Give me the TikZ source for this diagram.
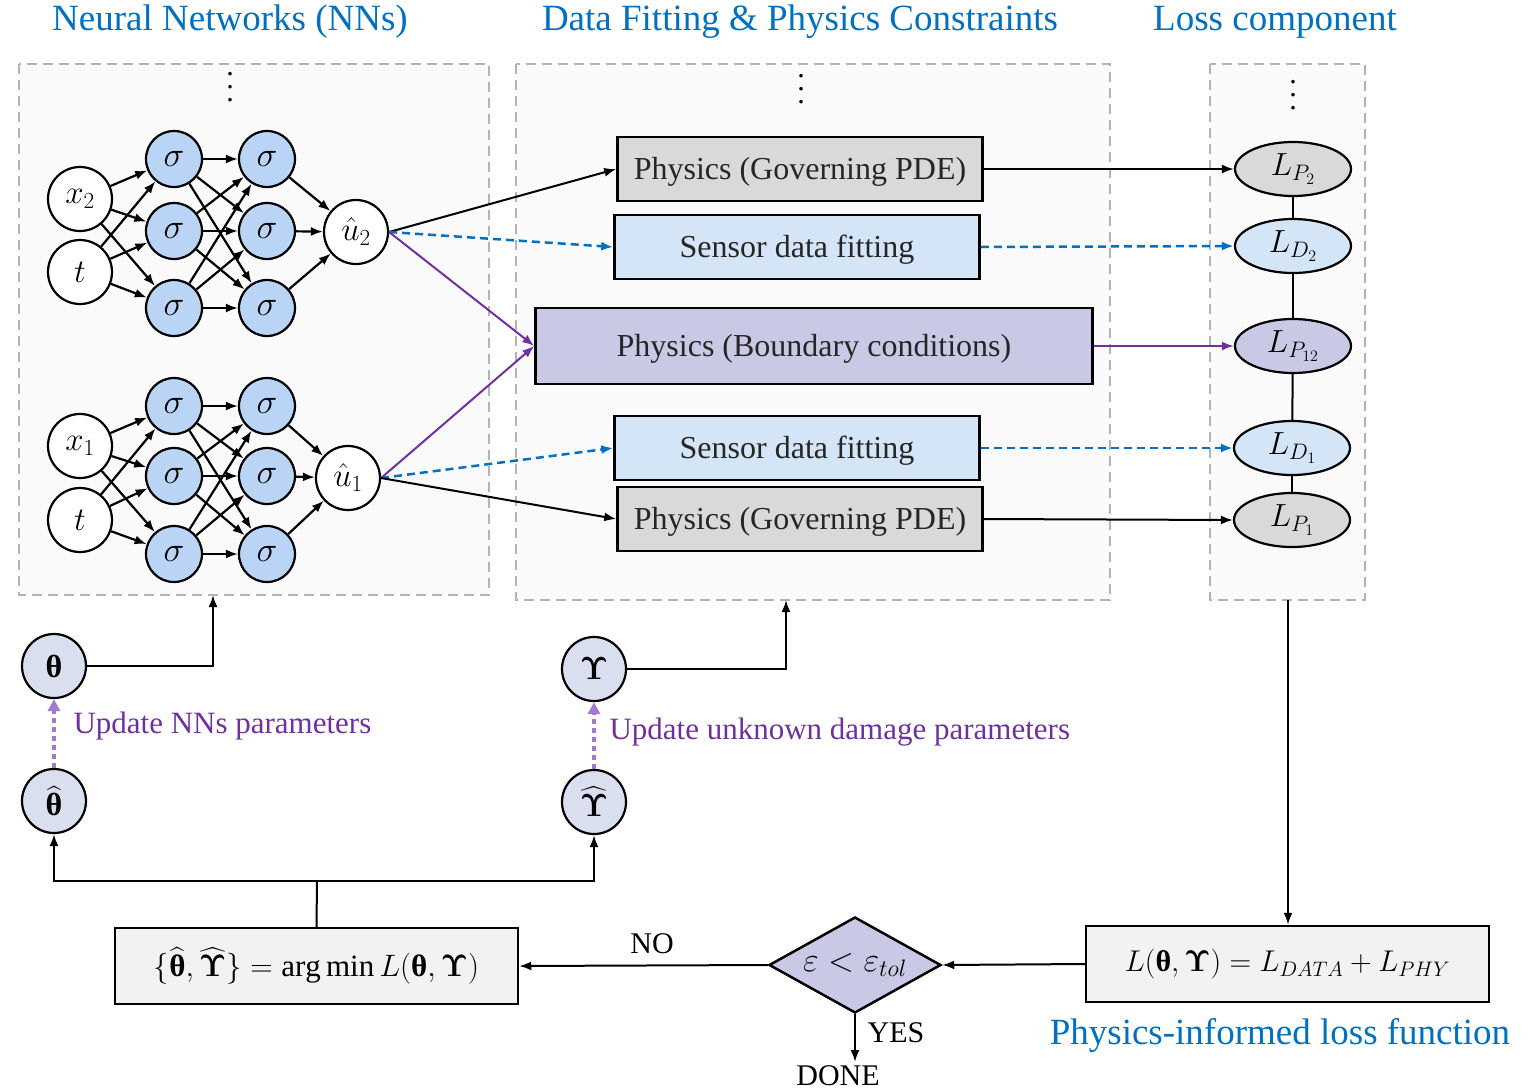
\RequirePackage{fix-cm}
\documentclass[tikz,border=0pt]{standalone}
\usepackage{amsmath}
\usepackage{fontspec}
\setmainfont{Liberation Serif}
\usetikzlibrary{arrows.meta,shapes.geometric,calc}
\definecolor{ttlblue}{HTML}{0070C0}
\definecolor{ppl}{HTML}{7030A0}
\definecolor{lppl}{HTML}{A07ACF}
\definecolor{hidblue}{HTML}{BAD4F6}
\definecolor{pdegray}{HTML}{D9D9D9}
\definecolor{senblue}{HTML}{D3E5F7}
\definecolor{bclav}{HTML}{C9C9E6}
\definecolor{boxgray}{HTML}{F2F2F2}
\definecolor{parfill}{HTML}{DADFF0}
\definecolor{regfill}{HTML}{FAFAFA}
\definecolor{regline}{HTML}{B3B3B3}
\definecolor{txtdark}{HTML}{262626}
\newcommand{\bth}{\text{\normalfont\bfseries θ}}
\newcommand{\bUp}{\boldsymbol{\Upsilon}}
\newcommand{\fs}[1]{\fontsize{#1}{#1}\selectfont}
\newcommand{\vdts}{\vbox{\baselineskip=13pt\hbox{.}\hbox{.}\hbox{.}}}
\begin{document}
\begin{tikzpicture}[x=1pt,y=-1pt,
  region/.style={draw=regline, fill=regfill, line width=2pt, dash pattern=on 10pt off 6pt},
  title/.style={text=ttlblue, font=\fs{37}},
  inp/.style={circle, draw, line width=2.2pt, minimum size=64pt, inner sep=0pt, fill=white, font=\fs{33}},
  hid/.style={circle, draw, line width=2.2pt, minimum size=56pt, inner sep=0pt, fill=hidblue, font=\fs{35}},
  nnarrow/.style={line width=2.2pt, -{Latex[length=12pt,width=9pt]}},
  pbox/.style={draw, line width=2.5pt, minimum width=365pt, minimum height=64pt, text=txtdark, font=\fs{32}, text height=28pt, text depth=7pt},
  lossell/.style={ellipse, draw, line width=2.2pt, minimum width=116pt, minimum height=54pt, inner sep=0pt, font=\fs{32}},
  par/.style={circle, draw, line width=2.2pt, minimum size=64pt, inner sep=0pt, fill=parfill, font=\fs{32}},
  conn/.style={line width=2pt, -{Latex[length=12pt,width=9pt]}},
  bconn/.style={line width=2.5pt, draw=ttlblue, dash pattern=on 8pt off 5pt, -{Latex[length=12pt,width=9pt]}, ttlblue},
  pconn/.style={line width=2pt, draw=ppl, -{Latex[length=12pt,width=9pt]}, ppl},
  upd/.style={line width=4pt, draw=lppl, dash pattern=on 5pt off 4pt, -{Triangle[length=12pt,width=12pt]}, lppl},
  lbl/.style={font=\fs{30}},
  dts/.style={font=\fs{30}, inner sep=0pt},
  optbox/.style={draw, line width=2.5pt, fill=boxgray, minimum width=403pt, minimum height=76pt, font=\fs{31}}
]
\useasboundingbox (0,0) rectangle (1537,1090);

% titles
\node[title] (t1) at (230,22) {Neural Networks (NNs)};
\node[title] (t2) at (800,22) {Data Fitting \& Physics Constraints};
\node[title] (t3) at (1275,22) {Loss component};

% regions
\draw[region] (19,64) rectangle (489,595);
\draw[region] (516,64) rectangle (1110,600);
\draw[region] (1210,64) rectangle (1365,600);
\node[dts] (d1) at (230,87) {\vdts};
\node[dts] (d2) at (801,89) {\vdts};
\node[dts] (d3) at (1293,95) {\vdts};

% top network
\node[inp] (tx) at (80,199) {$x_2$};
\node[inp] (tt) at (80,272) {$t$};
\foreach \j/\y in {1/159,2/231,3/308} {
  \node[hid] (tA\j) at (174,\y) {$\sigma$};
  \node[hid] (tB\j) at (267,\y) {$\sigma$};
}
\node[inp] (tu) at (356,232) {$\hat{u}_2$};
% bottom network
\node[inp] (bx) at (80,446) {$x_1$};
\node[inp] (bt) at (80,520) {$t$};
\foreach \j/\y in {1/406,2/476,3/554} {
  \node[hid] (bA\j) at (174,\y) {$\sigma$};
  \node[hid] (bB\j) at (267,\y) {$\sigma$};
}
\node[inp] (bu) at (348,478) {$\hat{u}_1$};

\foreach \s in {t,b} {
  \foreach \j in {1,2,3} {
    \draw[nnarrow] (\s x) -- (\s A\j);
    \draw[nnarrow] (\s t) -- (\s A\j);
    \draw[nnarrow] (\s B\j) -- (\s u);
    \foreach \i in {1,2,3} {
      \draw[nnarrow] (\s A\i) -- (\s B\j);
    }
  }
}

% middle boxes
\node[pbox, fill=pdegray] (tpde) at (800,169) {Physics (Governing PDE)};
\node[pbox, fill=senblue] (tsen) at (797,247) {Sensor data fitting};
\node[pbox, fill=bclav, minimum width=557pt, minimum height=76pt] (bc) at (814,346) {Physics (Boundary conditions)};
\node[pbox, fill=senblue] (bsen) at (797,448) {Sensor data fitting};
\node[pbox, fill=pdegray] (bpde) at (800,519) {Physics (Governing PDE)};

% loss ellipses
\node[lossell, fill=pdegray] (lp2) at (1293,169) {$L_{P_2}$};
\node[lossell, fill=senblue] (ld2) at (1293,246) {$L_{D_2}$};
\node[lossell, fill=bclav] (lp12) at (1293,346) {$L_{P_{12}}$};
\node[lossell, fill=senblue] (ld1) at (1292,448) {$L_{D_1}$};
\node[lossell, fill=pdegray] (lp1) at (1292,520) {$L_{P_1}$};
\draw[line width=2pt] (lp2) -- (ld2);
\draw[line width=2pt] (ld2) -- (lp12);
\draw[line width=2pt] (lp12) -- (ld1);
\draw[line width=2pt] (ld1) -- (lp1);

% NN outputs to boxes
\draw[conn] (tu.east) -- (tpde.west);
\draw[bconn] (tu.east) -- (tsen.west);
\draw[pconn] (tu.east) -- (bc.west);
\draw[pconn] (bu.east) -- (bc.west);
\draw[bconn] (bu.east) -- (bsen.west);
\draw[conn] (bu.east) -- (bpde.west);

% boxes to losses
\draw[conn] (tpde.east) -- (lp2.west);
\draw[bconn] (tsen.east) -- (ld2.west);
\draw[pconn] (bc.east) -- (lp12.west);
\draw[bconn] (bsen.east) -- (ld1.west);
\draw[conn] (bpde.east) -- (lp1.west);

% parameters
\node[par] (th) at (54,666) {\bfseries θ};
\node[par] (thh) at (54,801) {$\widehat{\bth}$};
\node[par] (up) at (594,669) {$\bUp$};
\node[par] (uph) at (594,802) {$\widehat{\bUp}$};
\coordinate (nnbot) at (213,595);
\coordinate (midbot) at (786,600);
\draw[conn] (th.east) -| (nnbot);
\draw[conn] (up.east) -| (midbot);
\draw[upd] (thh.north) -- (th.south);
\draw[upd] (uph.north) -- (up.south);
\node[anchor=west, text=ppl, font=\fs{31}] (l1) at (70,726) {Update NNs parameters};
\node[anchor=west, text=ppl, font=\fs{31}] (l2) at (606,732) {Update unknown damage parameters};

% optimisation loop
\node[optbox] (amin) at (316.5,966) {$\{\widehat{\bth},\widehat{\bUp}\} = \arg\min L(\bth,\bUp)$};
\node[optbox, font=\fs{30}] (lfn) at (1287.5,964) {$L(\bth,\bUp) = L_{DATA} + L_{PHY}$};
\node[diamond, draw, line width=2.5pt, fill=bclav, minimum width=172pt, minimum height=96pt, inner sep=0pt, aspect=1.8, font=\fs{34}] (dia) at (855,965) {$\varepsilon < \varepsilon_{tol}$};
\node[text=ttlblue, font=\fs{37}] (pil) at (1280,1035) {Physics-informed loss function};
\coordinate (split) at (317,881);
\draw[line width=2pt] (amin.north) -- (split);
\draw[conn] (split) -| (thh.south);
\draw[conn] (split) -| (uph.south);
\coordinate (lcbot) at (1288,600);
\draw[conn] (lcbot) -- (lcbot |- lfn.north);
\draw[conn] (lfn.west) -- (dia.east);
\draw[conn] (dia.west) -- (amin.east);
\node[lbl] (no) at (652,944) {NO};
\node[lbl, anchor=north] (done) at (838,1062) {DONE};
\draw[conn] (dia.south) -- (dia.south |- done.north);
\node[lbl] (yes) at (896,1033) {YES};
\end{tikzpicture}
\end{document}
